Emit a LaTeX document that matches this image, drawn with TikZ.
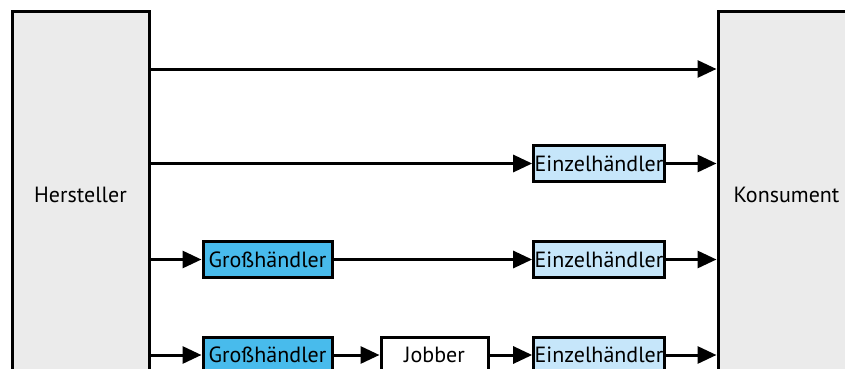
\documentclass[tikz,border=0pt]{standalone}
\usepackage{fontspec}
\setmainfont{PT Sans}
\usepackage{xcolor}
\usetikzlibrary{arrows.meta,calc,positioning}

\definecolor{grossblau}{HTML}{48BBEC}
\definecolor{einzelblau}{HTML}{C6E6FA}
\definecolor{seitengrau}{HTML}{EBEBEB}

\tikzset{
    seite/.style={draw, line width=3pt, fill=seitengrau, minimum width=137pt,
        minimum height=366pt, inner sep=0pt},
    handel/.style={draw, line width=3pt, minimum height=36pt, inner sep=1pt},
    gross/.style={handel, fill=grossblau, minimum width=129pt},
    einzel/.style={handel, fill=einzelblau, minimum width=130pt},
    jobber/.style={handel, fill=white, minimum width=107pt},
    pfeil/.style={line width=3pt, -{Triangle[length=19pt,width=17pt]}}
}

\begin{document}
\begin{tikzpicture}[x=1pt, y=-1pt, font=\fontsize{22}{26}\selectfont]

    \clip (0,0) rectangle (845,369);
    \fill[white] (0,0) rectangle (845,369);

    % Seiten
    \node[seite] (hersteller) at (80.5,195) {Hersteller};
    \node[seite] (konsument) at (786.5,195) {Konsument};

    % Reihe 1
    \coordinate (r1) at (0,69);
    \draw[pfeil] (hersteller.east |- r1) -- (konsument.west |- r1);

    % Reihe 2
    \node[einzel] (ez2) at (599,163.5) {Einzelhändler};
    \draw[pfeil] (hersteller.east |- ez2) -- (ez2.west);
    \draw[pfeil] (ez2.east) -- (konsument.west |- ez2);

    % Reihe 3
    \node[gross] (gh3) at (267.5,259.5) {Großhändler};
    \node[einzel] (ez3) at (599,259.5) {Einzelhändler};
    \draw[pfeil] (hersteller.east |- gh3) -- (gh3.west);
    \draw[pfeil] (gh3.east) -- (ez3.west);
    \draw[pfeil] (ez3.east) -- (konsument.west |- ez3);

    % Reihe 4
    \node[gross] (gh4) at (267.5,355) {Großhändler};
    \node[jobber] (jb4) at (434.5,355) {Jobber};
    \node[einzel] (ez4) at (599,355) {Einzelhändler};
    \draw[pfeil] (hersteller.east |- gh4) -- (gh4.west);
    \draw[pfeil] (gh4.east) -- (jb4.west);
    \draw[pfeil] (jb4.east) -- (ez4.west);
    \draw[pfeil] (ez4.east) -- (konsument.west |- ez4);

\end{tikzpicture}
\end{document}
